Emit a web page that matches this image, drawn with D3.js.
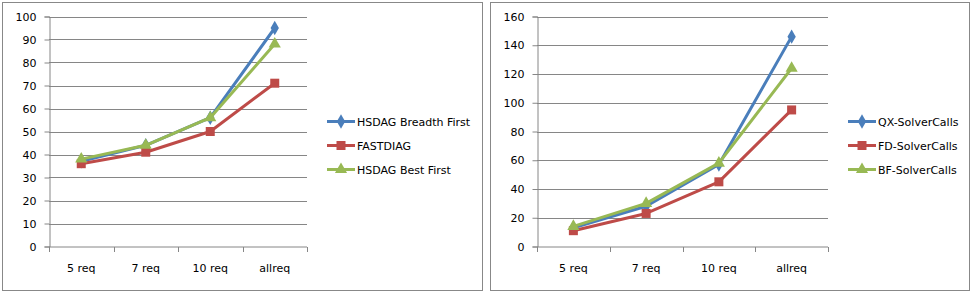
<!DOCTYPE html>
<html>
<head>
<meta charset="utf-8">
<script src="https://cdn.jsdelivr.net/npm/d3@7"></script>
<style>
  body { margin: 0; background: #fff; }
  svg { display: block; }
  text { font-family: Tahoma, "DejaVu Sans", sans-serif; font-size: 11px; fill: #000; }
</style>
</head>
<body>
<div id="chart"></div>
<script>
// data
const categories = ["5 req", "7 req", "10 req", "allreq"];

const leftNames = ["HSDAG Breadth First", "FASTDIAG", "HSDAG Best First"];
const hsdagBreadth = [37, 44, 56, 95];
const fastdiag = [36, 41, 50, 71];
const hsdagBest = [38, 44, 56, 88];
const leftTicks = [0, 10, 20, 30, 40, 50, 60, 70, 80, 90, 100];

const rightNames = ["QX-SolverCalls", "FD-SolverCalls", "BF-SolverCalls"];
const qxCalls = [13, 28, 57, 146];
const fdCalls = [11, 23, 45, 95];
const bfCalls = [14, 30, 58, 124];
const rightTicks = [0, 20, 40, 60, 80, 100, 120, 140, 160];

const colors = ["#4a7ebb", "#be4b48", "#98b954"];
const markers = ["diamond", "square", "triangle"];

const svg = d3.select("#chart").append("svg")
    .attr("width", 972)
    .attr("height", 293);

function drawPanel(opt) {
    const g = svg.append("g");

    // outer frame
    g.append("rect")
        .attr("x", opt.box[0] + 0.5)
        .attr("y", 2.5)
        .attr("width", opt.box[1] - opt.box[0])
        .attr("height", 288)
        .attr("fill", "#fff")
        .attr("stroke", "#888")
        .attr("stroke-width", 1);

    const x = d3.scaleBand()
        .domain(categories)
        .range([opt.plot[0], opt.plot[1]]);

    const y = d3.scaleLinear()
        .domain([0, d3.max(opt.ticks)])
        .range([246.5, 16.5]);

    // gridlines
    g.append("g")
        .selectAll("line")
        .data(opt.ticks.filter(t => t > 0))
        .join("line")
        .attr("x1", opt.plot[0])
        .attr("x2", opt.plot[1])
        .attr("y1", d => Math.round(y(d)) + 0.5)
        .attr("y2", d => Math.round(y(d)) + 0.5)
        .attr("stroke", "#868686")
        .attr("stroke-width", 1);

    // y axis
    const yAxis = g.append("g")
        .attr("transform", `translate(${opt.plot[0] + 0.5},0)`)
        .call(d3.axisLeft(y).tickValues(opt.ticks).tickSize(5).tickPadding(8));
    yAxis.select(".domain").attr("stroke", "#868686");
    yAxis.selectAll(".tick line").attr("stroke", "#868686");
    yAxis.selectAll("text").style("font-size", "11px").attr("fill", "#000");

    // x axis
    const xAxis = g.append("g")
        .attr("transform", `translate(0,${y(0) + 0.5})`);
    xAxis.append("line")
        .attr("x1", opt.plot[0])
        .attr("x2", opt.plot[1])
        .attr("stroke", "#868686");
    const bounds = categories.map(c => x(c)).concat([opt.plot[1]]);
    xAxis.selectAll("line.tk")
        .data(bounds)
        .join("line")
        .attr("class", "tk")
        .attr("x1", d => Math.round(d) + 0.5)
        .attr("x2", d => Math.round(d) + 0.5)
        .attr("y1", 0)
        .attr("y2", 5)
        .attr("stroke", "#868686");
    xAxis.selectAll("text")
        .data(categories)
        .join("text")
        .attr("x", d => x(d) + x.bandwidth() / 2)
        .attr("y", 25)
        .attr("text-anchor", "middle")
        .text(d => d);

    const line = d3.line()
        .x((d, i) => x(categories[i]) + x.bandwidth() / 2)
        .y(d => y(d));

    function marker(sel, type, color) {
        if (type === "square") {
            sel.append("rect")
                .attr("x", -4.5).attr("y", -4.5)
                .attr("width", 9).attr("height", 9)
                .attr("fill", color);
        } else {
            const sym = type === "diamond" ? d3.symbolDiamond : d3.symbolTriangle;
            const size = type === "diamond" ? 60 : 64;
            sel.append("path")
                .attr("d", d3.symbol(sym, size)())
                .attr("fill", color);
        }
    }

    opt.series.forEach((s, k) => {
        g.append("path")
            .datum(s)
            .attr("d", line)
            .attr("fill", "none")
            .attr("stroke", colors[k])
            .attr("stroke-width", 3)
            .attr("stroke-linejoin", "round");
        s.forEach((v, i) => {
            const m = g.append("g")
                .attr("transform", `translate(${x(categories[i]) + x.bandwidth() / 2},${y(v)})`);
            marker(m, markers[k], colors[k]);
        });
    });

    // legend
    const legend = g.append("g");
    opt.names.forEach((n, k) => {
        const ly = 121.5 + k * 24;
        const item = legend.append("g");
        item.append("line")
            .attr("x1", opt.legendX)
            .attr("x2", opt.legendX + 28)
            .attr("y1", ly).attr("y2", ly)
            .attr("stroke", colors[k])
            .attr("stroke-width", 3);
        const m = item.append("g")
            .attr("transform", `translate(${opt.legendX + 14},${ly})`);
        marker(m, markers[k], colors[k]);
        item.append("text")
            .attr("x", opt.legendX + 30)
            .attr("y", ly + 4)
            .text(n);
    });
}

drawPanel({
    box: [2, 482],
    plot: [49, 307],
    ticks: leftTicks,
    names: leftNames,
    series: [hsdagBreadth, fastdiag, hsdagBest],
    legendX: 327
});

drawPanel({
    box: [490, 969],
    plot: [537, 828],
    ticks: rightTicks,
    names: rightNames,
    series: [qxCalls, fdCalls, bfCalls],
    legendX: 848
});
</script>
</body>
</html>
